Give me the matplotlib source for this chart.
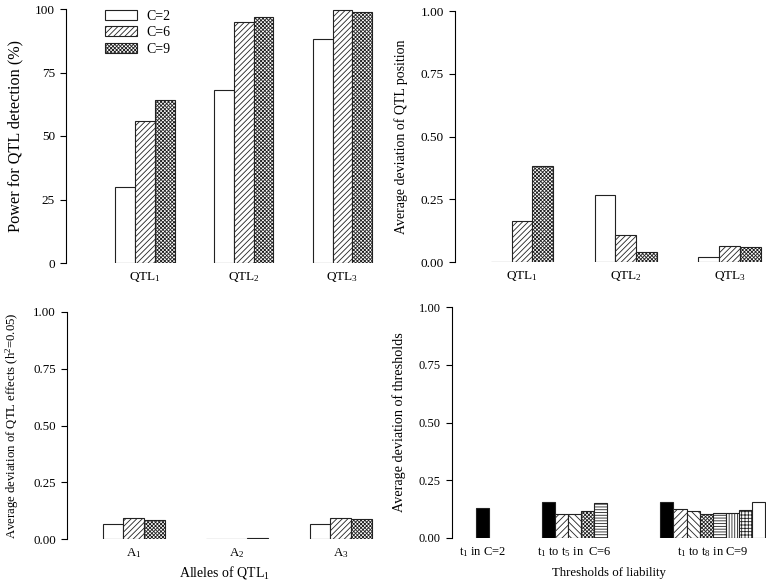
import numpy as np
import matplotlib
matplotlib.use("Agg")
import matplotlib.pyplot as plt

plt.rcParams['font.family'] = ['Liberation Serif', 'DejaVu Serif']
plt.rcParams['mathtext.fontset'] = 'custom'
plt.rcParams['mathtext.rm'] = 'Liberation Serif'
plt.rcParams['mathtext.default'] = 'regular'
plt.rcParams['hatch.linewidth'] = 0.6
plt.rcParams['font.size'] = 9

# data
series = ['C=2', 'C=6', 'C=9']
qtl_labels = ['QTL$_1$', 'QTL$_2$', 'QTL$_3$']
power = [[30, 68, 88], [56, 95, 99.5], [64, 97, 99]]
pos_dev = [[0.0, 0.267, 0.02], [0.163, 0.108, 0.064], [0.384, 0.038, 0.06]]
allele_labels = ['A$_1$', 'A$_2$', 'A$_3$']
eff_dev = [[0.065, 0.0, 0.065], [0.091, 0.0, 0.091], [0.085, 0.003, 0.087]]

thr_labels = ['t$_1$ in C=2', 't$_1$ to t$_5$ in  C=6', 't$_1$ to t$_8$ in C=9']
thr_c2 = [0.13]
thr_c6 = [0.154, 0.106, 0.104, 0.119, 0.15]
thr_c9 = [0.154, 0.127, 0.119, 0.106, 0.109, 0.108, 0.122, 0.154]

# styles
ser_hatch = [None, '//////', 'xxxxxxxxx']
thr_styles = [('black', None), ('white', '/////'), ('white', '\\\\\\\\\\'),
              ('white', 'xxxxxxxxx'), ('white', '------'), ('white', '||||||'),
              ('white', '+++++'), ('white', None)]
yt = [0, 0.25, 0.5, 0.75, 1.0]
ytl = ['0.00', '0.25', '0.50', '0.75', '1.00']

W, H = 768, 583
fig = plt.figure(figsize=(W / 100, H / 100), dpi=100)


def add_ax(l, r, b, t):
    return fig.add_axes([l / W, 1 - b / H, (r - l) / W, (b - t) / H])


def style(ax, ysize, xsize):
    for s in ['top', 'right', 'bottom']:
        ax.spines[s].set_visible(False)
    ax.spines['left'].set_linewidth(0.8)
    ax.tick_params(axis='y', direction='out', length=4, width=0.8, labelsize=ysize, pad=4)
    ax.tick_params(axis='x', length=0, pad=5, labelsize=xsize)


def grouped(ax, vals, labels):
    x = np.arange(3)
    w = 0.2
    for i, v in enumerate(vals):
        ax.bar(x + (i - 1) * w, v, w, color='white', edgecolor='#222222',
               linewidth=0.8, hatch=ser_hatch[i], label=series[i])
    ax.set_xticks(x)
    ax.set_xticklabels(labels)


# top-left
ax1 = add_ax(66, 382, 263, 9)
grouped(ax1, power, qtl_labels)
ax1.set_xlim(-0.80, 2.40)
ax1.set_ylim(0, 100)
ax1.set_yticks([0, 25, 50, 75, 100])
ax1.set_ylabel('Power for QTL detection (%)', fontsize=11.7, labelpad=8)
style(ax1, 9.5, 9.5)
ax1.legend(loc='upper left', bbox_to_anchor=(0.084, 1.047), frameon=False,
           handlelength=2.3, handleheight=0.7, labelspacing=0.25,
           handletextpad=0.7, fontsize=10)

# top-right
ax2 = add_ax(455, 766, 262, 11)
grouped(ax2, pos_dev, qtl_labels)
ax2.set_xlim(-0.644, 2.35)
ax2.set_ylim(0, 1)
ax2.set_yticks(yt)
ax2.set_yticklabels(ytl)
ax2.set_ylabel('Average deviation of QTL position', fontsize=10, labelpad=9)
style(ax2, 9.5, 9.5)

# bottom-left
ax3 = add_ax(67, 382, 539, 312)
grouped(ax3, eff_dev, allele_labels)
ax3.set_xlim(-0.643, 2.40)
ax3.set_ylim(0, 1)
ax3.set_yticks(yt)
ax3.set_yticklabels(ytl)
ax3.set_ylabel('Average deviation of QTL effects (h$^2$=0.05)', fontsize=9.2, labelpad=9)
ax3.set_xlabel('Alleles of QTL$_1$', fontsize=10, labelpad=3)
style(ax3, 9.3, 9.3)

# bottom-right
ax4 = add_ax(452, 766, 538, 307)
starts = [1.85, 6.92, 16.0]
groups = [thr_c2, thr_c6, thr_c9]
centers = []
for s0, g in zip(starts, groups):
    for j, v in enumerate(g):
        fc, h = thr_styles[j]
        ax4.bar(s0 + j, v, 1.0, align='edge', color=fc, edgecolor='#222222',
                linewidth=0.8, hatch=h)
    centers.append(s0 + len(g) / 2)
ax4.set_xticks(centers)
ax4.set_xticklabels(thr_labels)
ax4.set_xlim(0, 24.1)
ax4.set_ylim(0, 1)
ax4.set_yticks(yt)
ax4.set_yticklabels(ytl)
ax4.set_ylabel('Average deviation of thresholds', fontsize=10.2, labelpad=9)
ax4.set_xlabel('Thresholds of liability', fontsize=9.3, labelpad=6)
style(ax4, 9, 9)

fig.savefig('out.png', dpi=100)
